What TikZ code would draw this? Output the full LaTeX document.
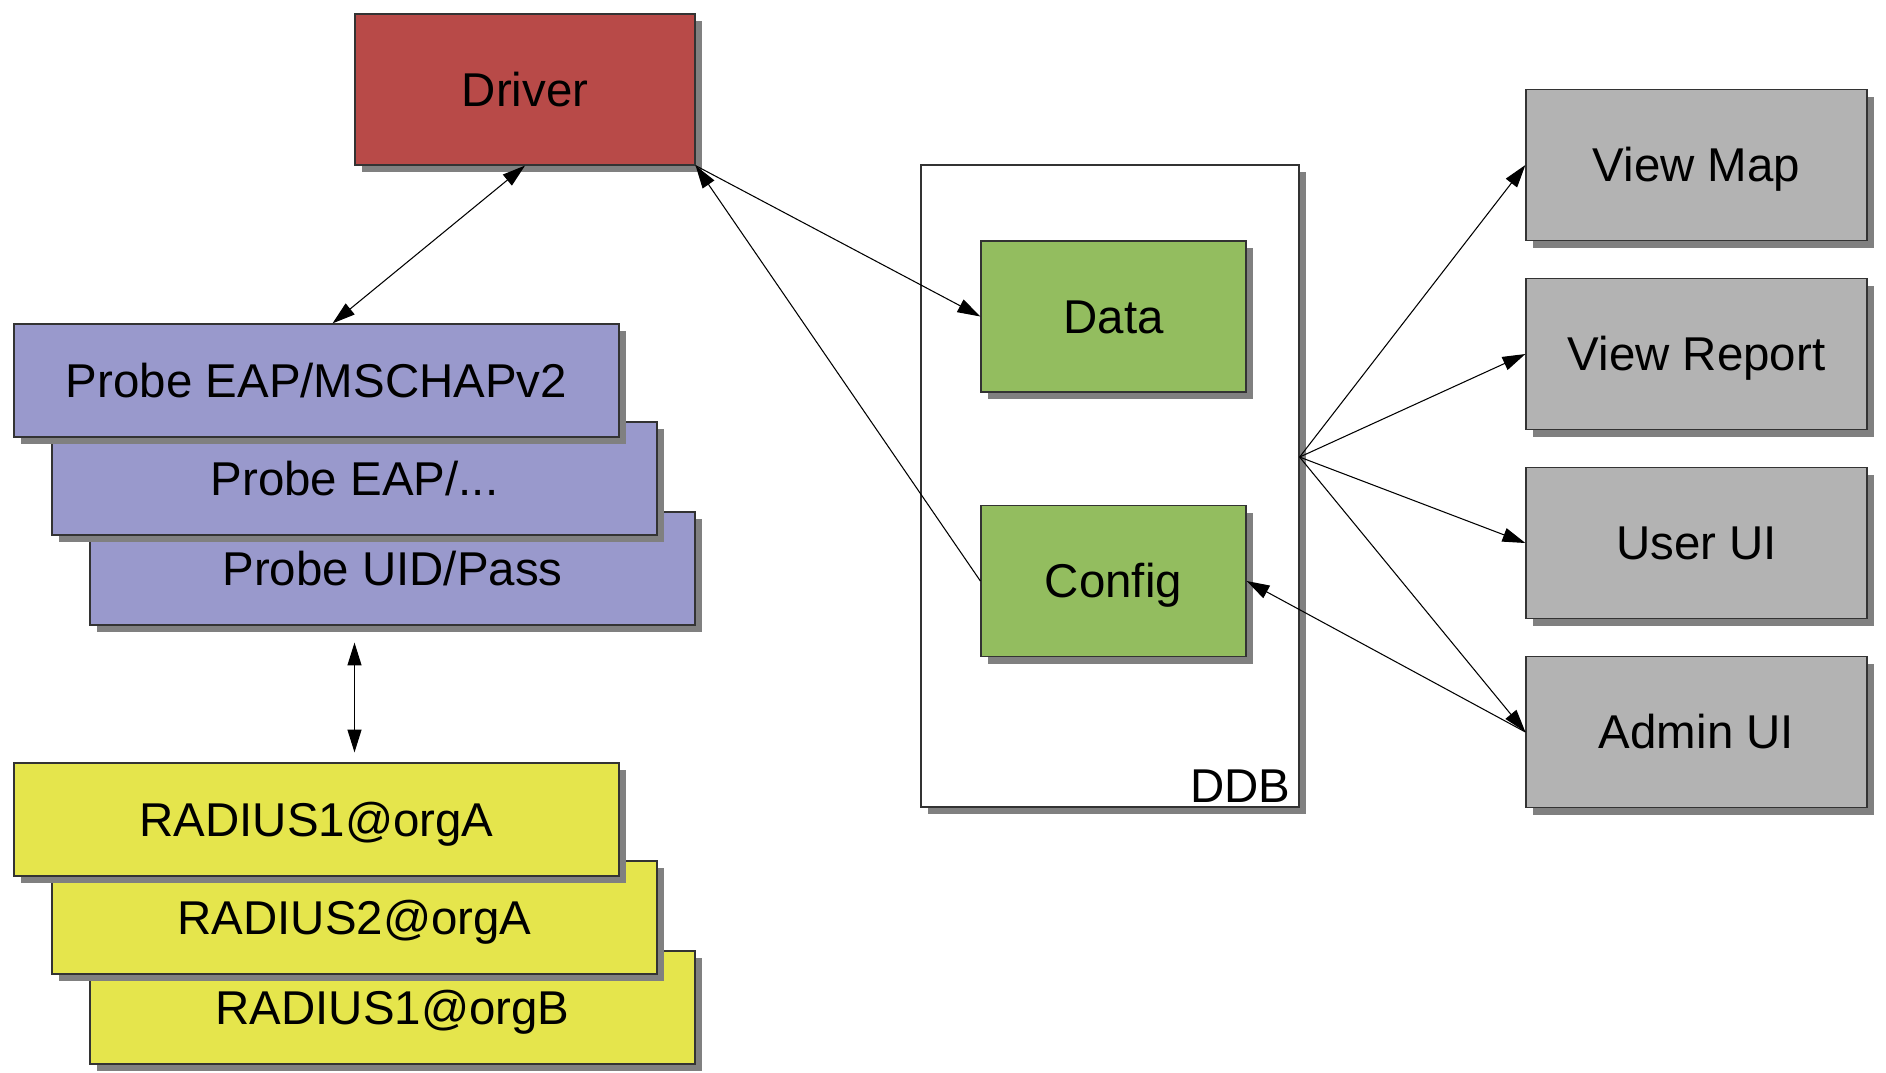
\documentclass[tikz,border=0pt]{standalone}
\usepackage{fontspec}
\setmainfont{Liberation Sans}
\usetikzlibrary{shadows,arrows.meta,calc}

\definecolor{driverred}{RGB}{184,74,72}
\definecolor{probeblue}{RGB}{153,153,204}
\definecolor{radiusyellow}{RGB}{229,229,76}
\definecolor{ddbgreen}{RGB}{147,189,95}
\definecolor{uigray}{RGB}{179,179,179}

\tikzset{
	box/.style={draw=black!80, line width=0.7pt, inner sep=0pt,
		font=\fontsize{27}{32}\selectfont, text height=19.3pt, text depth=0pt,
		drop shadow={shadow xshift=0.14cm, shadow yshift=-0.14cm, fill=black!50, opacity=1}},
	drvbox/.style={box, fill=driverred, minimum width=6.8cm, minimum height=3.02cm},
	probebox/.style={box, fill=probeblue, minimum width=12.1cm, minimum height=2.26cm},
	radiusbox/.style={box, fill=radiusyellow, minimum width=12.1cm, minimum height=2.26cm},
	storebox/.style={box, fill=ddbgreen, minimum width=5.3cm, minimum height=3.02cm},
	uibox/.style={box, fill=uigray, minimum width=6.82cm, minimum height=3.02cm},
	link/.style={line width=0.6pt, -{Triangle[length=13pt,width=8pt]}},
	dlink/.style={line width=0.6pt, {Triangle[length=13pt,width=8pt]}-{Triangle[length=13pt,width=8pt]}},
}

\begin{document}
\begin{tikzpicture}

	\useasboundingbox (0,0) rectangle (37.72,-21.44);

	\node[drvbox] (driver) at (10.5,-1.79) {Driver};

	% probes, back to front
	\node[probebox] (probe3) at (7.85,-11.37) {Probe UID/Pass};
	\node[probebox] (probe2) at (7.09,-9.57) {Probe EAP/...};
	\node[probebox] (probe1) at (6.33,-7.61) {Probe EAP/MSCHAPv2};

	% radius servers
	\node[radiusbox] (rad1b) at (7.85,-20.15) {RADIUS1@orgB};
	\node[radiusbox] (rad2a) at (7.09,-18.35) {RADIUS2@orgA};
	\node[radiusbox] (rad1a) at (6.33,-16.39) {RADIUS1@orgA};

	% database
	\node[box, fill=white, minimum width=7.56cm, minimum height=12.84cm] (ddb) at (22.2,-9.72) {};
	\node[font=\fontsize{27}{32}\selectfont, anchor=south east, inner xsep=5pt, inner ysep=3pt] (ddblabel) at (ddb.south east) {DDB};
	\node[storebox] (data) at (22.27,-6.33) {Data};
	\node[storebox] (config) at (22.27,-11.62) {Config};

	% front ends
	\node[uibox] (viewmap) at (33.93,-3.3) {View Map};
	\node[uibox] (viewreport) at (33.93,-7.08) {View Report};
	\node[uibox] (userui) at (33.93,-10.86) {User UI};
	\node[uibox] (adminui) at (33.93,-14.64) {Admin UI};

	\coordinate (fan) at ($(ddb.north east)!0.455!(ddb.south east)$);
	\coordinate (probeout) at ([yshift=-0.34cm]probe3.south -| probe2.center);
	\coordinate (radiusin) at ([yshift=0.2cm]rad1a.north -| probe2.center);

	\draw[dlink] (driver.south) -- ([xshift=0.32cm]probe1.north);
	\draw[dlink] (probeout) -- (radiusin);
	\draw[link] (driver.south east) -- (data.west);
	\draw[link] (config.west) -- (driver.south east);
	\draw[link] (fan) -- (viewmap.west);
	\draw[link] (fan) -- (viewreport.west);
	\draw[link] (fan) -- (userui.west);
	\draw[link] (fan) -- (adminui.west);
	\draw[link] (adminui.west) -- (config.east);

\end{tikzpicture}
\end{document}
